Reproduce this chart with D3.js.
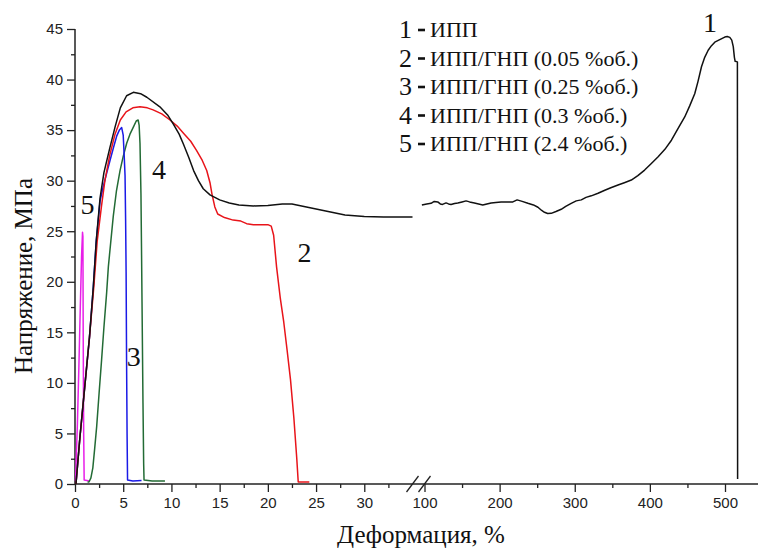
<!DOCTYPE html>
<html>
<head>
<meta charset="utf-8">
<script src="https://cdn.jsdelivr.net/npm/d3@7"></script>
<style>
  html, body { margin: 0; padding: 0; background: #fff; }
  svg { display: block; }
</style>
</head>
<body>
<svg id="chart" width="758" height="549"></svg>
<script>
// ---------- data (strain %, stress MPa) ----------
const ippLeft = [[0.1,0],[0.5,4.5],[1.0,9.5],[1.5,14.5],[1.9,19.5],[2.2,24],[2.6,28.3],[3.0,30.8],[3.6,33.2],[4.15,35.3],[4.7,37.2],[5.35,38.4],[6.05,38.74],[6.8,38.6],[7.45,38.25],[8.8,37.3],[9.6,36.5],[10.2,35.6],[10.8,34.6],[11.25,33.6],[11.8,32.3],[12.3,31.0],[12.8,30.0],[13.3,29.2],[14.0,28.6],[15.0,28.1],[16.0,27.8],[17.0,27.6],[18.5,27.5],[20.0,27.55],[21.5,27.7],[22.5,27.7],[24,27.4],[26,27.0],[28,26.6],[30,26.45],[32,26.4],[35,26.4]];
const ippRight = [[96.5,27.6],[103,27.7],[108.7,27.76],[113,27.95],[117.6,27.9],[121,27.7],[124,27.65],[128.7,27.8],[132,27.7],[135.3,27.65],[140,27.75],[144.3,27.8],[150,27.9],[155.3,28.0],[160,27.9],[166.4,27.8],[172,27.7],[177.6,27.6],[183,27.7],[188.7,27.8],[195,27.85],[202,27.9],[210,27.9],[217.6,27.9],[223.3,28.1],[230,27.95],[237.6,27.76],[245,27.6],[251,27.37],[256,27.05],[259.7,26.87],[264,26.75],[268.7,26.77],[275,26.95],[282,27.17],[288,27.45],[295.3,27.76],[302,28.0],[308.7,28.1],[315,28.35],[322,28.5],[331,28.75],[340,29.05],[348,29.3],[357.6,29.57],[366,29.8],[375.3,30.06],[384,30.5],[393,31.05],[402,31.7],[411,32.37],[420,33.1],[428.7,34.0],[437,35.1],[446.4,36.3],[453,37.4],[459.7,38.6],[464,39.8],[468.7,41.27],[473,42.2],[477.6,42.9],[482,43.35],[486.4,43.7],[493,43.95],[499.7,44.2],[503,44.25],[506.4,44.17],[509,43.9],[511,43.25],[512.5,42.2],[513.5,41.8],[516.5,41.75],[516.8,0.5]];
const gnp005 = [[0.1,0],[0.5,4.5],[1.0,9.5],[1.5,14.5],[1.95,19.5],[2.3,24],[2.75,27.5],[3.1,30],[3.6,32.5],[4.15,34.6],[4.7,36.0],[5.3,36.8],[6.0,37.2],[6.74,37.3],[7.5,37.2],[8.1,37.0],[9.0,36.6],[9.85,36.0],[10.6,35.4],[11.25,34.7],[12.0,33.9],[12.6,33.0],[13.2,32.0],[13.66,31.0],[14.0,29.8],[14.2,28.7],[14.5,27.4],[14.8,26.7],[15.5,26.35],[16.4,26.1],[17.2,26.0],[17.8,25.75],[18.5,25.65],[20.0,25.65],[20.35,25.5],[20.6,24.6],[20.9,21.5],[21.3,18.3],[21.65,16.0],[22.0,13.2],[22.35,10.3],[22.7,6.5],[23.0,2.5],[23.15,0.2],[24.3,0.2]];
const gnp025 = [[0.1,0],[0.5,4.5],[1.0,9.5],[1.5,14.5],[1.9,19.5],[2.2,24],[2.6,28.0],[2.95,29.5],[3.3,30.8],[3.63,32.0],[4.0,33.3],[4.32,34.4],[4.6,35.0],[4.84,35.25],[5.0,34.5],[5.1,32.5],[5.19,30.5],[5.25,26],[5.3,21],[5.35,12],[5.4,5],[5.45,0.4],[6.0,0.3],[6.9,0.35]];
const gnp03 = [[1.3,0.2],[1.45,0.2],[1.65,0.6],[1.85,1.6],[2.05,3.6],[2.25,5.7],[2.5,9.0],[2.76,12.3],[3.0,15.5],[3.28,18.9],[3.46,21.5],[3.97,26.5],[4.3,29],[4.67,31.0],[5.0,32.4],[5.36,33.7],[5.7,34.6],[6.05,35.3],[6.35,35.9],[6.55,36.0],[6.65,35.5],[6.74,33.7],[6.84,28.7],[6.9,23],[6.95,18],[7.05,8],[7.12,2],[7.16,0.4],[8.0,0.3],[9.33,0.3]];
const gnp24 = [[0.05,0.3],[0.25,6],[0.4,11.5],[0.55,17.5],[0.68,22.5],[0.78,24.9],[0.82,24.5],[0.85,15],[0.9,5],[0.95,0.4],[1.5,0.3]];

const seriesNames = ["ИПП","ИПП/ГНП (0.05 %об.)","ИПП/ГНП (0.25 %об.)","ИПП/ГНП (0.3 %об.)","ИПП/ГНП (2.4 %об.)"];
const seriesIds = ["1","2","3","4","5"];
const leftTicks = [0,5,10,15,20,25,30];
const leftMinor = [2.5,7.5,12.5,17.5,22.5,27.5,32.5];
const rightTicks = [100,200,300,400,500];
const rightMinor = [150,250,350,450];
const yTicks = [0,5,10,15,20,25,30,35,40,45];
const yMinor = [2.5,7.5,12.5,17.5,22.5,27.5,32.5,37.5,42.5];
const xTitle = "Деформация, %";
const yTitle = "Напряжение, МПа";

// ---------- scales ----------
const svg = d3.select("#chart");
const xL = d3.scaleLinear().domain([0, 35]).range([75, 412.5]);
const xR = d3.scaleLinear().domain([100, 500]).range([424.5, 725]);
const y = d3.scaleLinear().domain([0, 45]).range([484, 29]);

const tickFont = "'Liberation Sans', Arial, sans-serif";
const serif = "'Liberation Serif', 'Times New Roman', serif";

function styleAxis(g) {
  g.select(".domain").remove();
  g.selectAll(".tick line").attr("stroke", "#222").attr("stroke-width", 1.3);
  g.selectAll(".tick text").attr("font-family", tickFont).attr("font-size", 15).attr("fill", "#222");
}

// y axis
svg.append("g").attr("transform", "translate(75,0)")
  .call(d3.axisLeft(y).tickValues(yTicks).tickSize(8).tickPadding(4).tickFormat(d3.format("d")))
  .call(styleAxis);
svg.append("g").attr("transform", "translate(75,0)")
  .call(d3.axisLeft(y).tickValues(yMinor).tickSize(4).tickFormat(""))
  .call(styleAxis);

// x axes
svg.append("g").attr("transform", "translate(0,484)")
  .call(d3.axisBottom(xL).tickValues(leftTicks).tickSize(8).tickPadding(5).tickFormat(d3.format("d")))
  .call(styleAxis);
svg.append("g").attr("transform", "translate(0,484)")
  .call(d3.axisBottom(xL).tickValues(leftMinor).tickSize(4).tickFormat(""))
  .call(styleAxis);
svg.append("g").attr("transform", "translate(0,484)")
  .call(d3.axisBottom(xR).tickValues(rightTicks).tickSize(8).tickPadding(5).tickFormat(d3.format("d")))
  .call(styleAxis);
svg.append("g").attr("transform", "translate(0,484)")
  .call(d3.axisBottom(xR).tickValues(rightMinor).tickSize(4).tickFormat(""))
  .call(styleAxis);

// axis lines
svg.append("line").attr("x1", 75).attr("x2", 75).attr("y1", y(45)).attr("y2", y(0))
  .attr("stroke", "#222").attr("stroke-width", 1.5);
svg.append("line").attr("x1", 75).attr("x2", 758).attr("y1", y(0)).attr("y2", y(0))
  .attr("stroke", "#222").attr("stroke-width", 1.5);

// break marks
[412.5, 424.5].forEach(cx => {
  svg.append("line").attr("x1", cx - 6).attr("y1", 492).attr("x2", cx + 6).attr("y2", 476)
    .attr("stroke", "#222").attr("stroke-width", 1.3);
});

// curves
const lineL = d3.line().x(d => xL(d[0])).y(d => y(d[1]));
const lineR = d3.line().x(d => xR(d[0])).y(d => y(d[1]));
const curves = [
  {data: gnp24, color: "#e81ee8", gen: lineL},
  {data: gnp03, color: "#236b35", gen: lineL},
  {data: gnp025, color: "#1a1ae6", gen: lineL},
  {data: gnp005, color: "#e8141a", gen: lineL},
  {data: ippLeft, color: "#111", gen: lineL},
  {data: ippRight, color: "#111", gen: lineR}
];
curves.forEach(c => {
  svg.append("path").datum(c.data).attr("d", c.gen)
    .attr("fill", "none").attr("stroke", c.color).attr("stroke-width", 1.5)
    .attr("stroke-linejoin", "round");
});

// curve labels
const curveLabels = [
  {t: "1", x: xR(480), y: y(44.7)},
  {t: "2", x: xL(23.8), y: y(22.0)},
  {t: "3", x: xL(6.1), y: y(11.7)},
  {t: "4", x: xL(8.7), y: y(30.2)},
  {t: "5", x: xL(1.3), y: y(26.7)}
];
curveLabels.forEach(l => {
  svg.append("text").attr("x", l.x).attr("y", l.y).attr("text-anchor", "middle")
    .attr("font-family", serif).attr("font-size", 28).attr("fill", "#111").text(l.t);
});

// legend
seriesNames.forEach((name, i) => {
  const by = 37 + i * 28.5;
  svg.append("text").attr("x", 412).attr("y", by + 1).attr("text-anchor", "end")
    .attr("font-family", serif).attr("font-size", 26).attr("fill", "#111").text(seriesIds[i]);
  svg.append("line").attr("x1", 418).attr("x2", 425).attr("y1", by - 7).attr("y2", by - 7)
    .attr("stroke", "#111").attr("stroke-width", 2.6);
  svg.append("text").attr("x", 430).attr("y", by)
    .attr("font-family", serif).attr("font-size", 22).attr("fill", "#111").text(name);
});

// axis titles
svg.append("text").attr("x", 421).attr("y", 543).attr("text-anchor", "middle")
  .attr("font-family", serif).attr("font-size", 25).attr("fill", "#111").text(xTitle);
svg.append("text").attr("transform", "translate(32,276) rotate(-90)").attr("text-anchor", "middle")
  .attr("font-family", serif).attr("font-size", 25).attr("fill", "#111").text(yTitle);
</script>
</body>
</html>
